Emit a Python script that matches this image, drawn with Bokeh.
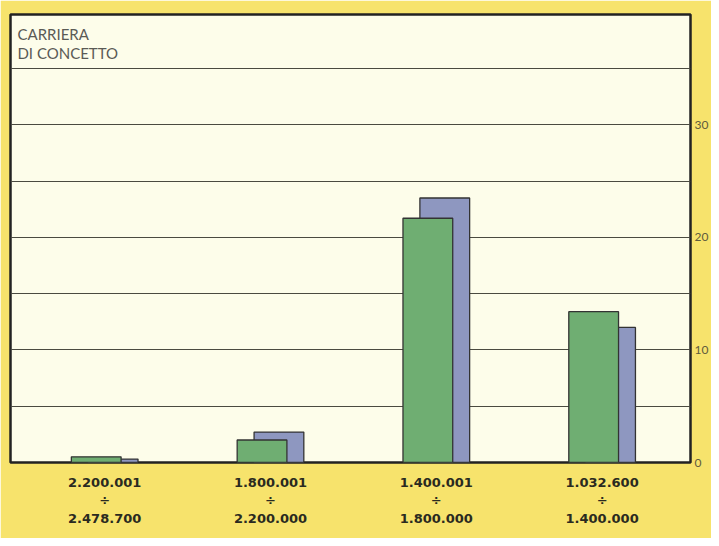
from bokeh.plotting import figure
from bokeh.models import Range1d, FixedTicker, Label
from bokeh.embed import file_html
from bokeh.resources import INLINE
import numpy as np

# --- data ---
range_low = ["2.200.001", "1.800.001", "1.400.001", "1.032.600"]
range_high = ["2.478.700", "2.200.000", "1.800.000", "1.400.000"]
green_vals = [0.5, 2.0, 21.7, 13.4]
blue_vals = [0.3, 2.7, 23.5, 12.0]
y_ticks = [0, 10, 20, 30]
grid_ticks = [5, 10, 15, 20, 25, 30, 35]
title_lines = ["CARRIERA", "DI CONCETTO"]

idx = np.arange(len(range_low))
bar_w = 0.30
offset = 0.102

p = figure(width=711, height=538, output_backend="svg", toolbar_location=None,
           x_range=Range1d(-0.517, 3.584), y_range=Range1d(0, 39.8),
           y_axis_location="right",
           background_fill_color="#fdfdea", border_fill_color="#f7e36c",
           min_border_left=10, min_border_top=14, min_border_bottom=76,
           min_border_right=0)

p.outline_line_color = "#222222"
p.outline_line_width = 2.5

# bars: blue behind, green in front
p.vbar(x=idx + offset, top=blue_vals, width=bar_w, bottom=0,
       fill_color="#8e97c0", line_color="#333333", line_width=1.3)
p.vbar(x=idx, top=green_vals, width=bar_w, bottom=0,
       fill_color="#6fae72", line_color="#333333", line_width=1.3)

# grid
p.xgrid.visible = False
p.ygrid.ticker = FixedTicker(ticks=grid_ticks)
p.ygrid.grid_line_color = "#4a4a40"
p.ygrid.grid_line_width = 1.2

# right axis
ya = p.yaxis[0]
ya.ticker = FixedTicker(ticks=y_ticks)
ya.axis_line_color = None
ya.major_tick_line_color = None
ya.minor_tick_line_color = None
ya.major_tick_out = 0
ya.major_tick_in = 0
ya.major_label_text_font = "Lato"
ya.major_label_text_font_size = "12px"
ya.major_label_text_color = "#5e5c3c"
ya.major_label_standoff = 4

# bottom axis with two-line labels
xa = p.xaxis[0]
tick_pos = [float(i + offset / 2) for i in idx]
xa.ticker = FixedTicker(ticks=tick_pos)
xa.major_label_overrides = {tick_pos[i]: f"{range_low[i]}\n÷\n{range_high[i]}" for i in idx}
xa.axis_line_color = None
xa.major_tick_line_color = None
xa.minor_tick_line_color = None
xa.major_tick_out = 0
xa.major_tick_in = 0
xa.major_label_text_font = "DejaVu Sans"
xa.major_label_text_font_style = "bold"
xa.major_label_text_font_size = "13px"
xa.major_label_text_color = "#2a2a20"
xa.major_label_standoff = 12

# title inside plot
for t, yy in zip(title_lines, [38.1, 36.4]):
    p.add_layout(Label(x=-0.475, y=yy, text=t, text_font="Lato",
                       text_font_size="15px", text_color="#5a5a55",
                       text_baseline="middle"))

open("out.html", "w").write(file_html(p, INLINE))
